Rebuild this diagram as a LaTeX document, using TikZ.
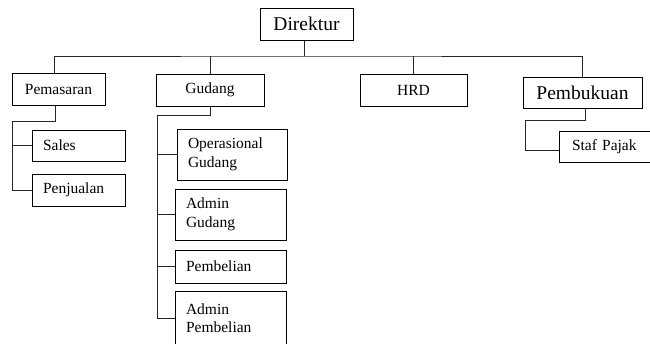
\documentclass[tikz,border=0pt]{standalone}
\usepackage{fontspec}
\setmainfont{Liberation Serif}
\usepackage{tikz}
\tikzstyle{unit}=[fill=white, draw=black, line width=0.9pt, inner sep=0pt, minimum height=32pt, font=\fontsize{15.5}{18.5}\selectfont]
\tikzstyle{head}=[unit, font=\fontsize{19.5}{22}\selectfont]
\tikzstyle{sub}=[unit, align=left, inner xsep=11pt]
\tikzstyle{line}=[draw=black!85, line width=0.9pt]
\pgfdeclarelayer{nodelayer}
\pgfdeclarelayer{edgelayer}
\pgfsetlayers{edgelayer,nodelayer,main}

\begin{document}
\begin{tikzpicture}[x=1pt, y=-1pt]
	\useasboundingbox (0, 0) rectangle (650, 343);
	\begin{pgfonlayer}{nodelayer}
		\node [style=head, minimum width=93pt] (0) at (306.5, 24) {Direktur};
		\node [style=unit, minimum width=93pt] (1) at (58.5, 89) {Pemasaran};
		\node [style=unit, minimum width=108pt] (2) at (210, 90) {Gudang};
		\node [style=unit, minimum width=107pt] (3) at (413.5, 90) {HRD};
		\node [style=head, minimum width=119pt, minimum height=31pt] (4) at (582.5, 92.5) {Pembukuan};
		\node [style=sub, text width=71pt, minimum height=31pt] (5) at (78.5, 145.5) {Sales};
		\node [style=sub, text width=71pt] (6) at (78.5, 190) {Penjualan};
		\node [style=sub, text width=88pt, minimum height=51pt] (7) at (232, 154.5) {Operasional\\Gudang};
		\node [style=sub, text width=89pt, minimum height=51pt] (8) at (230.5, 214.5) {Admin\\Gudang};
		\node [style=sub, text width=89pt, minimum height=33pt] (9) at (230.5, 266.5) {Pembelian};
		\node [style=sub, text width=89pt, minimum height=54pt] (10) at (230.5, 318) {Admin\\Pembelian};
		\node [style=sub, text width=69pt, inner xsep=13pt, minimum height=31pt] (11) at (606.5, 146.5) {Staf Pajak};
	\end{pgfonlayer}
	\begin{pgfonlayer}{edgelayer}
		\coordinate (b) at (304, 56);
		\coordinate (b1) at (12, 121);
		\coordinate (b2) at (157, 115);
		\coordinate (b4) at (525, 120);
		\draw [style=line] ([xshift=-2.5pt]0.south) -- (b);
		\draw [style=line] ([xshift=-4pt]1.north) |- (b) -| (4.north);
		\draw [style=line] (2.north) -- (2.north |- b);
		\draw [style=line] (3.north) -- (3.north |- b);
		\draw [style=line] ([xshift=-3pt]1.south) |- (b1) |- (6.west);
		\draw [style=line] (5.west) -- (5.west -| b1);
		\draw [style=line] (2.south) |- (b2) |- (10.west);
		\foreach \n in {7, 8, 9}
			\draw [style=line] (\n.west) -- (\n.west -| b2);
		\draw [style=line] ([xshift=2.5pt]4.south) |- (b4) |- ([yshift=-4pt]11.west);
	\end{pgfonlayer}
\end{tikzpicture}
\end{document}
